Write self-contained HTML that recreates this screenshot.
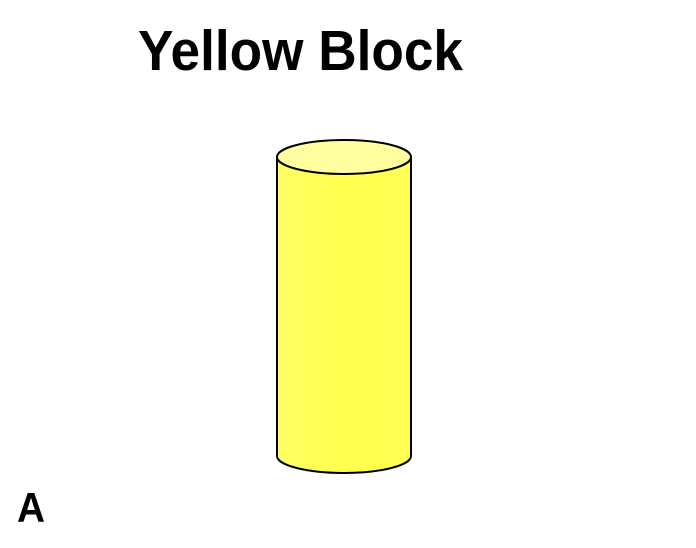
<!DOCTYPE html>
<html><head><meta charset="utf-8"><style>
html,body{margin:0;padding:0;background:#fff;width:696px;height:548px;overflow:hidden}
</style></head><body>
<svg width="696" height="548" viewBox="0 0 696 548">
<defs>
<linearGradient id="body" x1="0" x2="1" y1="0" y2="0">
<stop offset="0" stop-color="#ffff66"/><stop offset="0.5" stop-color="#ffff4d"/><stop offset="1" stop-color="#ffff55"/>
</linearGradient>
</defs>
<text x="138" y="70" font-family="Liberation Sans, sans-serif" font-weight="bold" font-size="57" textLength="325" lengthAdjust="spacingAndGlyphs" fill="#000">Yellow Block</text>
<g>
<path d="M277,157 L277,456 A67,17 0 0 0 411,456 L411,157 Z" fill="url(#body)" stroke="#000" stroke-width="2"/>
<ellipse cx="344" cy="157" rx="67" ry="17" fill="#ffffa0" stroke="#000" stroke-width="2"/>
</g>
<text x="17" y="522" font-family="Liberation Sans, sans-serif" font-weight="bold" font-size="42" textLength="28" lengthAdjust="spacingAndGlyphs" fill="#000">A</text>
</svg>
</body></html>
